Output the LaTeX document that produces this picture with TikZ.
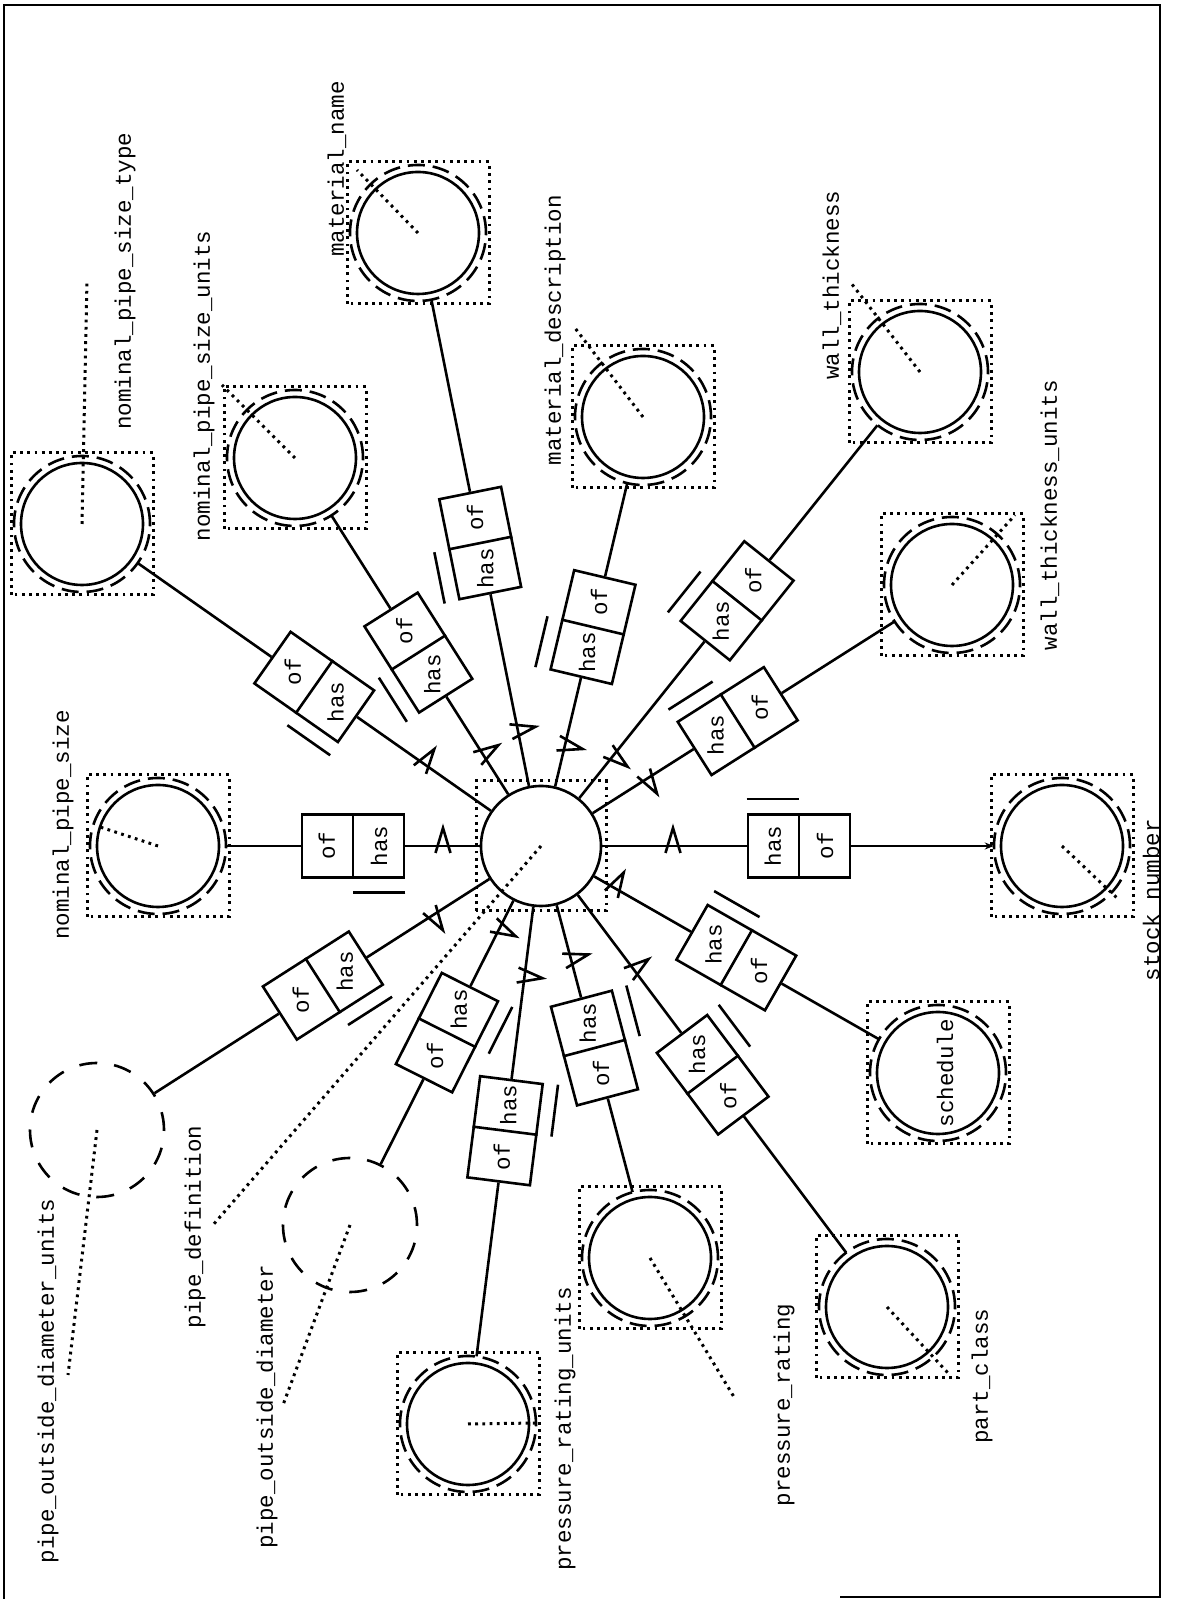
\documentclass[tikz,border=0pt]{standalone}
\usepackage{fontspec}
\setmonofont{Liberation Mono}
\usetikzlibrary{calc,arrows.meta}
\tikzset{
 solidln/.style={line width=2.6pt},
 dotln/.style={line width=3pt, dash pattern=on 2.8pt off 4.4pt},
 dashc/.style={line width=2.6pt, dash pattern=on 17pt off 8pt},
 bigdash/.style={line width=2.6pt, dash pattern=on 18pt off 17pt},
 txt/.style={font=\ttfamily\fontsize{22.5}{24}\selectfont, inner sep=0pt},
 rbox/.style={draw, line width=2.6pt, rectangle, minimum width=102pt, minimum height=63pt, inner sep=0pt},
 attr/.style={circle, minimum size=136pt, inner sep=0pt},
 eattr/.style={circle, draw, bigdash, minimum size=134pt, inner sep=0pt}
}
\newcommand{\attrnode}[2]{%
 \node[attr] (#1) at (#2) {};
 \draw[solidln] (#1.center) circle[radius=61pt];
 \draw[dashc] (#1.center) circle[radius=68pt];
 \draw[dotln] ($(#1.center)+(-71,-71)$) rectangle ($(#1.center)+(71,71)$);}
\newcommand{\rolebox}[4]{%
 \node[rbox, rotate=#4] (#1) at ($(C)!#3pt!(#2)$) {};
 \draw[solidln] (#1.north) -- (#1.south);
 \node[txt, rotate=90] at ($(#1.center)!0.5!(#1.west)$) {has};
 \node[txt, rotate=90] at ($(#1.center)!0.5!(#1.east)$) {of};
 \draw[solidln] ($(#1.north west)!-14pt!(#1.south west)$) -- ($(#1.north)!-14pt!(#1.south)$);
 \draw[solidln] (C) -- (#1);}
\newcommand{\chev}[3]{%
 \begin{scope}[shift={($(C)!#2pt!(#1)$)}, rotate=#3]
 \draw[solidln] (-7,-7.5) -- (18,0) -- (-7,7.5);
 \end{scope}}
\begin{document}
\begin{tikzpicture}[x=1pt,y=1pt]
\useasboundingbox (0,0) rectangle (1177,1599);
% frame
\draw[line width=2.5pt] (840,2) -- (1160,2) -- (1160,1594) -- (4,1594) -- (4,0);

% central entity
\node[circle, draw, solidln, minimum size=120pt, inner sep=0pt] (C) at (541,753) {};
\draw[dotln] (476,688) rectangle (606,818);

% attribute nodes
\attrnode{nA}{82,1075}
\attrnode{nB}{295,1141}
\attrnode{nC}{418,1366}
\attrnode{nD}{643,1182}
\attrnode{nE}{920,1227}
\attrnode{nF}{952,1014}
\attrnode{nG}{1062,753}
\attrnode{nH}{938,526}
\attrnode{nI}{887,292}
\attrnode{nJ}{650,341}
\attrnode{nK}{468,175}
\node[eattr] (nL) at (350,374) {};
\node[eattr] (nM) at (97,469) {};
\attrnode{nN}{158,753}

% role boxes
\rolebox{bA}{nA}{277}{144.95}
\rolebox{bB}{nB}{229}{122.38}
\rolebox{bC}{nC}{309}{101.35}
\rolebox{bD}{nD}{225}{76.63}
\rolebox{bE}{nE}{314}{51.36}
\rolebox{bF}{nF}{233}{32.42}
\rolebox{bG}{nG}{258}{0}
\rolebox{bH}{nH}{225}{-29.76}
\rolebox{bI}{nI}{286}{-53.11}
\rolebox{bJ}{nJ}{209}{-75.18}
\rolebox{bK}{nK}{287}{-97.2}
\rolebox{bL}{nL}{209}{-116.74}
\rolebox{bM}{nM}{259}{-147.4}
\rolebox{bN}{nN}{188}{180}

% outer connectors
\draw[solidln] (bA) -- (nA);
\draw[solidln] (bB) -- (nB);
\draw[solidln] (bC) -- (nC);
\draw[solidln] (bD) -- (nD);
\draw[solidln] (bE) -- (nE);
\draw[solidln] (bF) -- (nF);
\draw[solidln, -{Stealth[length=9pt,width=7pt]}] (bG) -- (nG);
\draw[solidln] (bH) -- (nH);
\draw[solidln] (bI) -- (nI);
\draw[solidln] (bJ) -- (nJ);
\draw[solidln] (bK) -- (nK);
\draw[solidln] (bL) -- (nL);
\draw[solidln] (bM) -- (nM);
\draw[solidln] (bN) -- (nN);

% chevrons
\chev{nA}{143}{54.95}
\chev{nB}{108}{32.38}
\chev{nC}{118}{11.35}
\chev{nD}{104}{-13.37}
\chev{nE}{116}{-38.64}
\chev{nF}{126}{-57.58}
\chev{nG}{132}{90}
\chev{nH}{85}{60.24}
\chev{nI}{155}{36.89}
\chev{nJ}{117}{14.82}
\chev{nK}{131}{-7.2}
\chev{nL}{92}{-26.74}
\chev{nM}{128}{-57.4}
\chev{nN}{98}{90}

% pointers and labels
\coordinate (pA) at (87,1319);  \draw[dotln] (nA.center) -- (pA);
\node[txt, rotate=90] (lA) at (125,1318) {nominal\_pipe\_size\_type};
\coordinate (pB) at (222,1214); \draw[dotln] (nB.center) -- (pB);
\node[txt, rotate=90] (lB) at (204,1213) {nominal\_pipe\_size\_units};
\coordinate (pC) at (357,1429); \draw[dotln] (nC.center) -- (pC);
\node[txt, rotate=90] (lC) at (337,1430) {material\_name};
\coordinate (pD) at (575,1271); \draw[dotln] (nD.center) -- (pD);
\node[txt, rotate=90] (lD) at (555,1269) {material\_description};
\coordinate (pE) at (851,1316); \draw[dotln] (nE.center) -- (pE);
\node[txt, rotate=90] (lE) at (832,1314) {wall\_thickness};
\coordinate (pF) at (1015,1084); \draw[dotln] (nF.center) -- (pF);
\node[txt, rotate=90] (lF) at (1050,1084) {wall\_thickness\_units};
\coordinate (pG) at (1117,701); \draw[dotln] (nG.center) -- (pG);
\node[txt, rotate=90] (lG) at (1151,699) {stock number};
\node[txt, rotate=90] (lH) at (945,526) {schedule};
\coordinate (pI) at (948,226); \draw[dotln] (nI.center) -- (pI);
\node[txt, rotate=90] (lI) at (982,223) {part\_class};
\coordinate (pJ) at (734,202); \draw[dotln] (nJ.center) -- (pJ);
\node[txt, rotate=90] (lJ) at (784,194) {pressure\_rating};
\coordinate (pK) at (537,176); \draw[dotln] (nK.center) -- (pK);
\node[txt, rotate=90] (lK) at (565,170) {pressure\_rating\_units};
\coordinate (pL) at (283,194); \draw[dotln] (nL.center) -- (pL);
\node[txt, rotate=90] (lL) at (267,192) {pipe\_outside\_diameter};
\coordinate (pM) at (68,224); \draw[dotln] (nM.center) -- (pM);
\node[txt, rotate=90] (lM) at (48,218) {pipe\_outside\_diameter\_units};
\coordinate (pN) at (97,773); \draw[dotln] (nN.center) -- (pN);
\node[txt, rotate=90] (lN) at (63,774) {nominal\_pipe\_size};
\coordinate (pP) at (213,374); \draw[dotln] (C.center) -- (pP);
\node[txt, rotate=90] (lP) at (195,372) {pipe\_definition};
\end{tikzpicture}
\end{document}
